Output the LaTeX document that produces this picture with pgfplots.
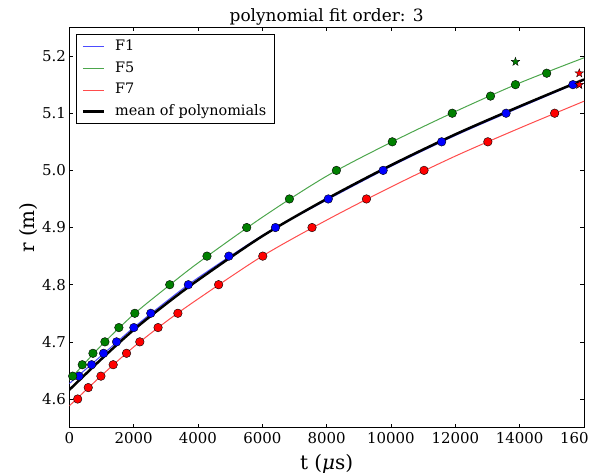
\documentclass[border=0pt]{standalone}
\usepackage{fontspec}
\setmainfont{DejaVu Serif}
\usepackage{pgfplots}
\pgfplotsset{compat=1.18}
\usepackage{pgfplotstable}
\usetikzlibrary{calc}

\definecolor{mplblue}{rgb}{0,0,1}
\definecolor{mplgreen}{rgb}{0,0.5,0}
\definecolor{mplred}{rgb}{1,0,0}
\definecolor{lineblue}{rgb}{0.3,0.3,1}
\definecolor{linegreen}{rgb}{0.3,0.65,0.3}
\definecolor{linered}{rgb}{1,0.3,0.3}

\pgfdeclareplotmark{fstar}{%
  \pgfpathmoveto{\pgfpointpolar{90}{\pgfplotmarksize}}%
  \pgfpathlineto{\pgfpointpolar{126}{0.4\pgfplotmarksize}}%
  \pgfpathlineto{\pgfpointpolar{162}{\pgfplotmarksize}}%
  \pgfpathlineto{\pgfpointpolar{198}{0.4\pgfplotmarksize}}%
  \pgfpathlineto{\pgfpointpolar{234}{\pgfplotmarksize}}%
  \pgfpathlineto{\pgfpointpolar{270}{0.4\pgfplotmarksize}}%
  \pgfpathlineto{\pgfpointpolar{306}{\pgfplotmarksize}}%
  \pgfpathlineto{\pgfpointpolar{342}{0.4\pgfplotmarksize}}%
  \pgfpathlineto{\pgfpointpolar{18}{\pgfplotmarksize}}%
  \pgfpathlineto{\pgfpointpolar{54}{0.4\pgfplotmarksize}}%
  \pgfpathclose
  \pgfusepathqfillstroke}

% data points (t in microseconds, r in m)
\pgfplotstableread{
t r
105 4.64
403 4.66
735 4.68
1107 4.70
1541 4.725
2037 4.75
3122 4.80
4280 4.85
5515 4.90
6842 4.95
8304 5.00
10040 5.05
11904 5.10
13094 5.13
13869 5.15
14840 5.17
}\greenpts
\pgfplotstableread{
t r
301 4.64
694 4.66
1066 4.68
1469 4.70
2007 4.725
2533 4.75
3700 4.80
4960 4.85
6408 4.90
8051 4.95
9756 5.00
11575 5.05
13578 5.10
15655 5.15
}\bluepts
\pgfplotstableread{
t r
260 4.60
589 4.62
983 4.64
1364 4.66
1779 4.68
2192 4.70
2759 4.725
3375 4.75
4641 4.80
6014 4.85
7545 4.90
9238 4.95
11027 5.00
13011 5.05
15088 5.10
}\redpts
% fitted curves
\pgfplotstableread{
t b g r m
0 4.627 4.633 4.588 4.616
1000 4.676 4.694 4.641 4.670
2000 4.725 4.748 4.691 4.721
3000 4.770 4.794 4.735 4.766
4000 4.812 4.838 4.775 4.808
6000 4.886 4.918 4.850 4.885
8000 4.948 4.990 4.913 4.950
10000 5.007 5.049 4.971 5.009
12000 5.061 5.103 5.025 5.063
14000 5.110 5.153 5.074 5.112
16000 5.158 5.197 5.121 5.159
}\fits

\begin{document}
\begin{tikzpicture}
\begin{axis}[
  scale only axis, width=514.7bp, height=400.1bp,
  xmin=0, xmax=16000, ymin=4.55, ymax=5.25,
  xtick={0,2000,4000,6000,8000,10000,12000,14000,16000},
  ytick={4.6,4.7,4.8,4.9,5.0,5.1,5.2},
  scaled x ticks=false,
  xticklabel style={/pgf/number format/fixed, /pgf/number format/1000 sep={}, yshift=-1bp},
  yticklabel style={/pgf/number format/fixed, /pgf/number format/fixed zerofill, /pgf/number format/precision=1},
  /pgf/number format/assume math mode=true,
  ticklabel style={font=\fontsize{15}{18}\selectfont},
  tick align=inside, major tick length=4bp,
  tick style={black, line width=0.6bp},
  axis line style={line width=0.8bp},
  xtick pos=both, ytick pos=both,
  title={polynomial fit order: 3},
  title style={at={(rel axis cs:0.5,1)}, anchor=base, yshift=0.5bp, font=\fontsize{17}{20}\selectfont},
  xlabel={t (\textit{μ}s)},
  ylabel={r (m)},
  xlabel style={at={(rel axis cs:0.5,0)}, anchor=center, yshift=-36bp, font=\fontsize{20}{24}\selectfont},
  ylabel style={at={(rel axis cs:0,0.5)}, anchor=center, yshift=41bp, font=\fontsize{20}{24}\selectfont},
  legend cell align=left,
  legend style={at={(rel axis cs:0,1)}, anchor=north west, xshift=7bp, yshift=-7bp,
    draw=black, line width=0.8bp, font=\fontsize{14.5}{17}\selectfont,
    inner xsep=5bp, inner ysep=2.5bp, row sep=3.2bp,
    nodes={text height=11bp, text depth=3.5bp, inner xsep=3bp, inner ysep=2bp},
    /tikz/every odd column/.append style={column sep=7bp}},
  legend image code/.code={\draw[#1] (0bp,0bp) -- (21bp,0bp);},
]
% F1
\addplot[lineblue, line width=1bp, smooth] table[x=t, y=b] {\fits};
\addlegendentry{F1}
\addplot[only marks, mark=*, mark size=4.3bp, mark options={draw=black, line width=0.4bp, fill=mplblue}, forget plot] table[x=t, y=r] {\bluepts};
% F5
\addplot[linegreen, line width=1bp, smooth] table[x=t, y=g] {\fits};
\addlegendentry{F5}
\addplot[only marks, mark=*, mark size=4.3bp, mark options={draw=black, line width=0.4bp, fill=mplgreen}, forget plot] table[x=t, y=r] {\greenpts};
% F7
\addplot[linered, line width=1bp, smooth] table[x=t, y=r] {\fits};
\addlegendentry{F7}
\addplot[only marks, mark=*, mark size=4.3bp, mark options={draw=black, line width=0.4bp, fill=mplred}, forget plot] table[x=t, y=r] {\redpts};
% mean
\addplot[black, line width=2.5bp, smooth] table[x=t, y=m] {\fits};
\addlegendentry{mean of polynomials}
% stars
\addplot[only marks, mark=fstar, mark size=4.5bp, mark options={draw=black, line width=0.3bp, fill=mplgreen}, forget plot] coordinates {(13869,5.19)};
\addplot[only marks, mark=fstar, mark size=4.5bp, mark options={draw=black, line width=0.3bp, fill=mplblue}, forget plot] coordinates {(15853,5.15)};
\addplot[only marks, mark=fstar, mark size=4.5bp, mark options={draw=black, line width=0.3bp, fill=mplred}, forget plot] coordinates {(15853,5.17) (15853,5.15)};
\end{axis}
\pgfresetboundingbox
\path[use as bounding box] ($(current axis.south west)+(-69.3bp,-45.4bp)$) rectangle ($(current axis.north east)+(5bp,27.5bp)$);
\end{tikzpicture}
\end{document}
